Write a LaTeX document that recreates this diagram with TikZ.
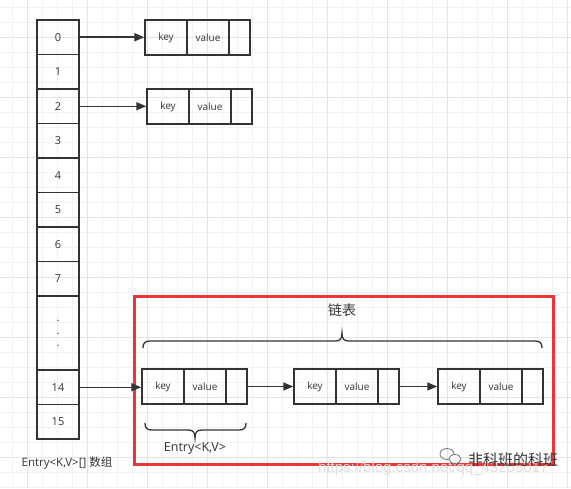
\documentclass[tikz,border=0pt]{standalone}
\usepackage{fontspec}
\setmainfont{Open Sans}
\newfontfamily\cjk{Noto Sans CJK SC}
\newfontfamily\wmfont{Liberation Sans}
\usetikzlibrary{arrows.meta}
\definecolor{ink}{HTML}{333333}
\definecolor{gridminor}{HTML}{F2F2F2}
\definecolor{gridmajor}{HTML}{E4E4E4}
\definecolor{redbox}{RGB}{238,52,52}
\begin{document}
\begin{tikzpicture}[x=1pt,y=-1pt,
  minorline/.style={draw=gridminor,line width=1.2pt},
  majorline/.style={draw=gridmajor,line width=1.4pt},
  cell/.style={draw=ink,line width=1.4pt,minimum width=42pt,minimum height=34.5pt,inner sep=0pt,text=ink,font=\fontsize{11}{13}\selectfont},
  fld/.style={draw=ink,line width=1.4pt,minimum width=42pt,minimum height=35pt,inner sep=0pt,text=ink,font=\fontsize{10}{12}\selectfont},
  ptrbox/.style={fld,minimum width=21pt},
  link/.style={draw=ink,line width=1.4pt,-{Triangle[length=10pt,width=8pt]}},
  bracepath/.style={draw=ink,line width=1.3pt},
  lbl/.style={text=ink,inner sep=0pt}
]
\useasboundingbox (0,0) rectangle (571,488);
\fill[white] (0,0) rectangle (571,488);
% background grid
\foreach \i in {0,...,37} \draw[minorline] ({12.7+15*\i},0) -- ({12.7+15*\i},488);
\foreach \j in {0,...,32} \draw[minorline] (0,{7.3+15*\j}) -- (571,{7.3+15*\j});
\foreach \i in {0,...,9} \draw[majorline] ({27.7+60*\i},0) -- ({27.7+60*\i},488);
\foreach \j in {0,...,7} \draw[majorline] (0,{37.3+60*\j}) -- (571,{37.3+60*\j});

% array
\node[cell] (a0) at (58,37.25) {0};
\node[cell] (a1) at (58,71.75) {1};
\node[cell] (a2) at (58,106.25) {2};
\node[cell] (a3) at (58,140.75) {3};
\node[cell] (a4) at (58,175.25) {4};
\node[cell] (a5) at (58,209.75) {5};
\node[cell] (a6) at (58,244.25) {6};
\node[cell] (a7) at (58,278.75) {7};
\node[cell,minimum height=74pt] (ad) at (58,333) {};
\node[lbl,align=center,font=\fontsize{11}{12.5}\selectfont] (dots) at (58,333.5) {.\\.\\.};
\node[cell] (a14) at (58,387.25) {14};
\node[cell] (a15) at (58,421.75) {15};
\node[lbl,font=\fontsize{11.5}{13}\selectfont] (arrlbl) at (67,463) {Entry<K,V>[] {\cjk 数组}};

% entry for bucket 0
\node[fld] (e0k) at (166,37.5) {key};
\node[fld] (e0v) at (208,37.5) {value};
\node[ptrbox] (e0p) at (239.5,37.5) {};
% entry for bucket 2
\node[fld] (e2k) at (168,106.5) {key};
\node[fld] (e2v) at (210,106.5) {value};
\node[ptrbox] (e2p) at (241.5,106.5) {};

\draw[link,line width=2pt] (a0.east) -- (a0.east -| e0k.west);
\draw[link] (a2.east) -- (a2.east -| e2k.west);

% red box
\draw[redbox,line width=3pt] (134,296) rectangle (553,464);

% linked list
\node[fld] (l1k) at (163,386.5) {key};
\node[fld] (l1v) at (205,386.5) {value};
\node[ptrbox] (l1p) at (236.5,386.5) {};
\node[fld] (l2k) at (315,386.5) {key};
\node[fld] (l2v) at (357,386.5) {value};
\node[ptrbox] (l2p) at (388.5,386.5) {};
\node[fld] (l3k) at (459,386.5) {key};
\node[fld] (l3v) at (501,386.5) {value};
\node[ptrbox] (l3p) at (532.5,386.5) {};

\draw[link] (a14.east) -- (a14.east -| l1k.west);
\draw[link] (l1p.east) -- (l2k.west);
\draw[link] (l2p.east) -- (l3k.west);

% braces
\draw[bracepath] (143,348) .. controls (143,343) and (145,341) .. (150,341) -- (335,341)
  .. controls (340,341) and (342,339) .. (342,333)
  .. controls (342,339) and (344,341) .. (349,341) -- (535,341)
  .. controls (540,341) and (542,343) .. (542,348);
\node[lbl,font=\cjk\fontsize{14}{16}\selectfont] (listlbl) at (342,310) {链表};

\draw[bracepath] (145,423) .. controls (145,428) and (147,430) .. (152,430) -- (188,430)
  .. controls (193,430) and (195,432) .. (195,438)
  .. controls (195,432) and (197,430) .. (202,430) -- (239,430)
  .. controls (244,430) and (246,428) .. (246,423);
\node[lbl,font=\fontsize{12.5}{14}\selectfont] (entrylbl) at (195,449) {Entry<K,V>};

% watermark
\node[lbl,anchor=west,text=black!12,font=\wmfont\fontsize{15}{15}\selectfont] (url) at (318,469) {https://blog.csdn.net/qq\_43255017};
\draw[black!55,line width=0.8pt] (447,454) ellipse (7 and 5.5);
\draw[black!55,line width=0.8pt,fill=white] (455,459) ellipse (6 and 4.5);
\node[lbl,anchor=west,text=ink,font=\cjk\fontsize{15}{15}\selectfont] (wm) at (468,460) {非科班的科班};
\end{tikzpicture}
\end{document}
